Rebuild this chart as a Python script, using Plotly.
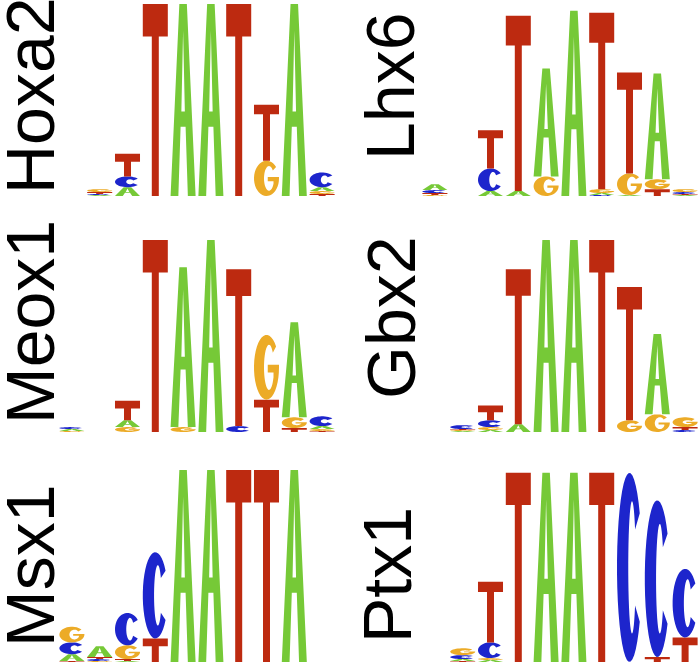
import numpy as np
import plotly.graph_objects as go

# positions in each logo
cols = list(range(1, 11))

# information content (bits) per letter and position
hoxa2_A = [0, 0.01, 0.09, 0, 1.96, 1.96, 0, 0, 1.96, 0.04]
hoxa2_C = [0, 0.01, 0.11, 0, 0, 0, 0, 0, 0, 0.15]
hoxa2_G = [0, 0.03, 0, 0, 0, 0, 0, 0.36, 0, 0.03]
hoxa2_T = [0, 0.02, 0.23, 1.96, 0, 0, 1.96, 0.57, 0, 0.02]

lhx6_A = [0.06, 0, 0.05, 0.05, 1.10, 1.89, 0.02, 0.01, 1.08, 0.01]
lhx6_C = [0.03, 0, 0.23, 0, 0, 0, 0.01, 0, 0, 0.02]
lhx6_G = [0.01, 0, 0, 0, 0.20, 0, 0.04, 0.22, 0.10, 0.03]
lhx6_T = [0.02, 0, 0.39, 1.79, 0, 0, 1.80, 1.03, 0.07, 0.01]

meox1_A = [0.02, 0, 0.07, 0, 1.63, 1.96, 0, 0, 0.97, 0.03]
meox1_C = [0.02, 0, 0, 0, 0, 0, 0.06, 0, 0, 0.10]
meox1_G = [0.01, 0, 0.05, 0, 0.05, 0, 0, 0.66, 0.11, 0.02]
meox1_T = [0, 0, 0.20, 1.96, 0, 0, 1.60, 0.33, 0.04, 0.01]

gbx2_A = [0, 0.01, 0.02, 0.08, 1.96, 1.96, 0, 0, 0.82, 0]
gbx2_C = [0, 0.04, 0.07, 0, 0, 0, 0, 0, 0, 0.02]
gbx2_G = [0, 0.01, 0.03, 0, 0, 0, 0, 0.12, 0.18, 0.10]
gbx2_T = [0, 0.01, 0.15, 1.58, 0, 0, 1.96, 1.36, 0, 0.03]

msx1_A = [0.07, 0.11, 0.01, 0, 1.96, 1.96, 0, 0, 1.96, 0]
msx1_C = [0.12, 0.02, 0.33, 0.88, 0, 0, 0, 0, 0, 0]
msx1_G = [0.16, 0.01, 0.14, 0, 0, 0, 0, 0, 0, 0]
msx1_T = [0.01, 0.02, 0.02, 0.24, 0, 0, 1.96, 1.96, 0, 0]

ptx1_A = [0, 0.02, 0.02, 0, 1.93, 1.93, 0, 0, 0, 0]
ptx1_C = [0, 0.04, 0.16, 0, 0, 0, 0, 1.93, 1.60, 0.70]
ptx1_G = [0, 0.07, 0.02, 0, 0, 0, 0, 0, 0, 0]
ptx1_T = [0, 0.01, 0.62, 1.93, 0, 0, 1.93, 0, 0.05, 0.25]

names = ["Hoxa2", "Lhx6", "Meox1", "Gbx2", "Msx1", "Ptx1"]

colors = {"A": "#76c937", "C": "#1d25cc", "G": "#ecab27", "T": "#bd2a10"}

W, H = 700, 665


# glyph outlines in a unit box (u across, v up)
def arc(cx, cy, rx, ry, a0, a1, n=36):
    th = np.radians(np.linspace(a0, a1, n))
    return list(zip(cx + rx * np.cos(th), cy + ry * np.sin(th)))


def glyph(letter, h):
    if letter == "T":
        b = max(0.17, min(0.45, 0.08 / h))
        return [[(0, 1), (1, 1), (1, 1 - b), (0.64, 1 - b), (0.64, 0),
                 (0.36, 0), (0.36, 1 - b), (0, 1 - b)]]
    if letter == "A":
        outer = [(0, 0), (0.35, 1), (0.65, 1), (1, 0), (0.69, 0), (0.6, 0.36),
                 (0.4, 0.36), (0.31, 0)]
        hole = [(0.43, 0.44), (0.57, 0.44), (0.5, 0.86)]
        return [outer, hole]
    tv = max(0.15, min(0.3, 0.03 / h))
    ry = 0.5 - tv
    if letter == "C":
        outer = arc(0.5, 0.5, 0.5, 0.5, 35, 325)
        inner = arc(0.6, 0.5, 0.15, ry, 325, 35)
        return [outer + inner]
    # G
    outer = arc(0.5, 0.5, 0.5, 0.5, 40, 360)
    ang = -np.degrees(np.arccos(0.9))
    inner = arc(0.6, 0.5, 0.2, ry, 360 + ang, 40)
    bar = [(1.0, 0.54), (0.55, 0.54), (0.55, 0.42), (0.78, 0.42)]
    return [outer + bar + inner]


def to_path(subpaths, x0, x1, y0, y1):
    parts = []
    for sp in subpaths:
        pts = ["%.4f,%.5f" % (x0 + u * (x1 - x0), y0 + v * (y1 - y0)) for u, v in sp]
        parts.append("M" + " L".join(pts) + " Z")
    return " ".join(parts)


panels = [
    (hoxa2_A, hoxa2_C, hoxa2_G, hoxa2_T),
    (lhx6_A, lhx6_C, lhx6_G, lhx6_T),
    (meox1_A, meox1_C, meox1_G, meox1_T),
    (gbx2_A, gbx2_C, gbx2_G, gbx2_T),
    (msx1_A, msx1_C, msx1_G, msx1_T),
    (ptx1_A, ptx1_C, ptx1_G, ptx1_T),
]

# pixel layout: logo column spans and row baselines/tops
x_spans = [(58, 336), (421, 699)]
y_spans = [(0, 196), (236, 432), (466, 662)]
label_pos = [(30, 96), (390, 87), (30, 322), (391, 318), (30, 566), (387, 575)]

fig = go.Figure()
shapes = []
annotations = []

for i, (name, data) in enumerate(zip(names, panels)):
    n = i + 1
    xa = "x" if n == 1 else "x%d" % n
    ya = "y" if n == 1 else "y%d" % n
    xs = x_spans[i % 2]
    ys = y_spans[i // 2]
    fig.update_layout(**{
        ("xaxis" if n == 1 else "xaxis%d" % n): dict(
            domain=[xs[0] / W, xs[1] / W], range=[0.5, 10.5], visible=False,
            anchor=ya, fixedrange=True),
        ("yaxis" if n == 1 else "yaxis%d" % n): dict(
            domain=[1 - ys[1] / H, 1 - ys[0] / H], range=[0, 2], visible=False,
            anchor=xa, fixedrange=True),
    })
    totals = [sum(v) for v in zip(*data)]
    fig.add_trace(go.Scatter(x=cols, y=totals, xaxis=xa, yaxis=ya, mode="markers",
                             marker=dict(opacity=0), hoverinfo="skip", showlegend=False))
    for k, c in enumerate(cols):
        stack = sorted([(data[j][k], L) for j, L in enumerate("ACGT") if data[j][k] > 0])
        base = 0
        for h, L in stack:
            path = to_path(glyph(L, h), c - 0.45, c + 0.45, base, base + h)
            shapes.append(dict(type="path", path=path, xref=xa, yref=ya,
                               fillcolor=colors[L], fillrule="evenodd",
                               line=dict(width=0)))
            base += h
    lx, ly = label_pos[i]
    annotations.append(dict(text=name, x=lx / W, y=1 - ly / H, xref="paper", yref="paper",
                            textangle=-90, showarrow=False, xanchor="center", yanchor="middle",
                            font=dict(family="Liberation Sans, Arial, Helvetica", size=68,
                                      color="black")))

fig.update_layout(width=W, height=H, margin=dict(l=0, r=0, t=0, b=0),
                  paper_bgcolor="white", plot_bgcolor="white",
                  shapes=shapes, annotations=annotations, showlegend=False)

# drop the browser's default body margin so the figure sits at the page corner
fig.write_html("out.html", config={"displayModeBar": False},
               post_script="document.body.style.margin='0';")
